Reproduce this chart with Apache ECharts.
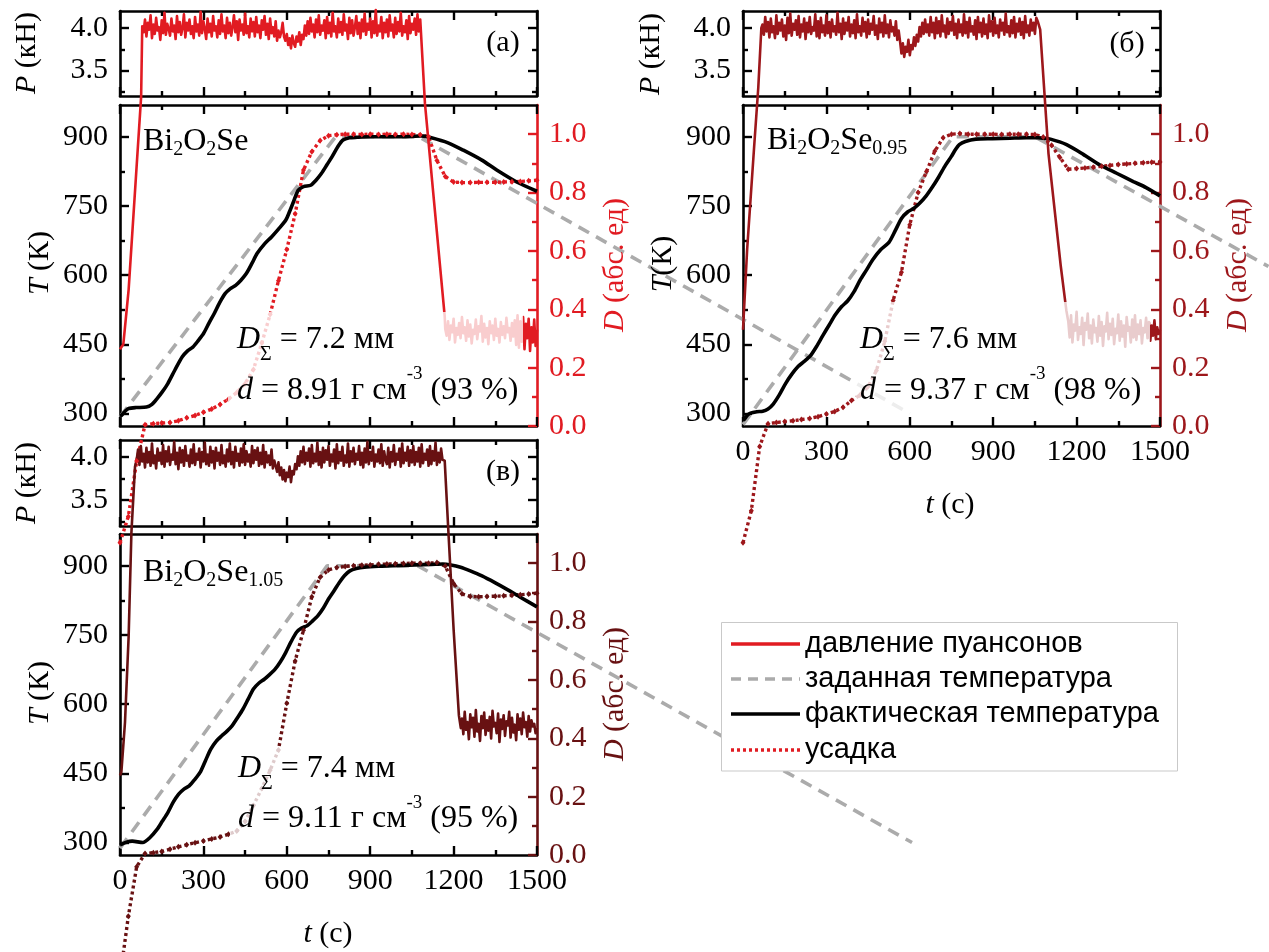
<!DOCTYPE html>
<html>
<head>
<meta charset="utf-8">
<script src="https://cdn.jsdelivr.net/npm/echarts@6/dist/echarts.min.js"></script>
<style>
  html, body { margin: 0; padding: 0; background: #fff; }
  #chart { width: 1269px; height: 952px; }
</style>
</head>
<body>
<div id="chart"></div>
<script>
// ---------------- data ----------------
// pressure records are sampled every 5 s, shrinkage every 30 s
const PRESS_STEP = 5;
const D_STEP = 30;

// panel (а) — Bi2O2Se
const pressRiseA = [[0, 0.22], [12, 0.28], [31, 0.92], [76, 3.19]];
const pressPlateauStartA = 80;
const pressPlateauA = [
  4.02, 3.95, 4.10, 3.90, 4.06, 3.98, 4.15, 3.88, 4.04, 3.93, 4.12, 3.97, 4.01, 3.86, 4.09, 3.94, 4.18, 3.92, 4.05, 3.99,
  3.91, 4.11, 3.96, 4.03, 3.87, 4.14, 3.95, 4.07, 3.92, 4.00, 4.16, 3.89, 4.06, 3.97, 4.10, 3.93, 4.02, 3.88, 4.13, 3.96,
  4.04, 3.91, 4.19, 3.94, 4.08, 3.99, 3.87, 4.11, 3.95, 4.05, 3.90, 4.14, 3.97, 4.02, 3.89, 4.09, 3.93, 4.16, 3.96, 4.03,
  3.88, 4.12, 3.94, 4.06, 3.91, 4.01, 4.15, 3.95, 4.08, 3.86, 4.10, 3.97, 4.04, 3.92, 4.17, 3.94, 4.02, 3.89, 4.11, 3.96,
  4.07, 3.90, 4.13, 3.95, 4.03, 3.88, 4.09, 3.98, 4.14, 3.92, 4.05, 3.87, 4.11, 3.94, 4.01, 3.90, 4.08, 3.85, 3.97, 3.89,
  3.95, 4.06, 3.90, 3.85, 3.93, 3.80, 3.88, 3.76, 3.91, 3.82, 3.78, 3.90, 3.84, 3.95, 3.80, 3.92, 3.87, 4.03, 3.91, 4.08,
  3.93, 4.12, 3.96, 4.04, 3.89, 4.10, 3.95, 4.15, 3.92, 4.03, 3.97, 4.09, 3.88, 4.13, 3.94, 4.06, 3.90, 4.18, 3.96, 4.02,
  3.89, 4.11, 3.95, 4.07, 3.92, 4.16, 3.97, 4.04, 3.87, 4.12, 3.94, 4.09, 3.91, 4.01, 4.14, 3.93, 4.06, 3.88, 4.10, 3.96,
  4.17, 3.92, 4.05, 3.98, 4.11, 3.89, 4.08, 3.94, 4.21, 3.91, 4.03, 3.96, 4.13, 3.88, 4.06, 3.95, 4.10, 3.90, 4.15, 3.97,
  4.04, 3.89, 4.12, 3.93, 4.07, 3.96, 4.18, 3.91, 4.02, 3.95, 4.09, 3.87, 4.14, 3.94, 4.05, 3.98, 4.11, 3.92, 4.16, 3.96,
  4.10
];
const pressDropA = [[1097, 3.11], [1129, 1.98], [1168, 0.61]];
const pressTailStartA = 1170;
const pressTailA = [
  0.46, 0.38, 0.55, 0.33, 0.50, 0.42, 0.58, 0.30, 0.47, 0.39, 0.53, 0.35, 0.60, 0.41, 0.48, 0.32, 0.56, 0.37, 0.51, 0.29,
  0.45, 0.40, 0.57, 0.34, 0.49, 0.43, 0.61, 0.31, 0.52, 0.36, 0.47, 0.28, 0.55, 0.41, 0.50, 0.33, 0.58, 0.38, 0.46, 0.30,
  0.54, 0.39, 0.49, 0.35, 0.59, 0.42, 0.47, 0.32, 0.53, 0.37, 0.56, 0.27,
  0.62, 0.24, 0.55, 0.31, 0.60, 0.22, 0.52, 0.35, 0.58, 0.20, 0.48, 0.30, 0.57, 0.26, 0.45
];
const setTempA = [[0, 293], [775, 900], [1075, 900], [2841, 300]];
const actTempA = [
  [0, 294], [5, 296], [20, 306], [31, 311], [57, 313], [95, 314], [115, 320], [134, 333],
  [152, 347], [172, 365], [198, 395], [224, 423], [243, 436], [262, 444], [280, 457],
  [301, 474], [320, 496], [339, 517], [358, 540], [378, 560], [397, 571], [416, 578],
  [435, 589], [455, 604], [475, 626], [493, 647], [520, 668], [545, 683], [570, 700],
  [596, 719], [610, 738], [622, 756], [641, 784], [660, 792], [686, 795], [705, 806],
  [725, 821], [745, 840], [763, 857], [785, 880], [802, 893], [825, 898], [853, 899],
  [900, 900], [950, 900], [1000, 900], [1050, 901], [1084, 902], [1120, 898], [1180, 887],
  [1235, 871], [1300, 850], [1355, 828], [1427, 802], [1500, 782]
];
const shrinkA = [
  -0.40, -0.31, -0.12, 0.004, 0.008, 0.010, 0.012, 0.018, 0.028, 0.036, 0.047, 0.058, 0.074,
  0.092, 0.115, 0.145, 0.194, 0.284, 0.382, 0.498, 0.605, 0.727, 0.877, 0.940, 0.978, 0.995,
  0.998, 1.0, 1.0, 0.999, 1.0, 0.999, 1.0, 0.999, 1.0, 0.999, 0.998, 0.991, 0.910, 0.855,
  0.836, 0.834, 0.834, 0.835, 0.835, 0.835, 0.836, 0.837, 0.838, 0.840, 0.842
];

// panel (б) — Bi2O2Se0.95
const pressRiseB = [[0, 0.45], [15, 1.4], [40, 2.6], [55, 3.3], [66, 4.0]];
const pressPlateauStartB = 70;
const pressPlateauB = [
  4.04, 3.92, 4.13, 3.96, 4.07, 3.89, 4.11, 3.95, 4.02, 3.88, 4.15, 3.93, 4.06, 3.97, 4.10, 3.90, 4.03, 3.86, 4.12, 3.94,
  4.17, 3.91, 4.05, 3.98, 4.09, 3.92, 4.14, 3.89, 4.04, 3.96, 4.11, 3.87, 4.06, 3.95, 4.13, 3.93, 4.01, 3.97, 4.16, 3.90,
  4.08, 3.88, 4.12, 3.95, 4.03, 3.91, 4.15, 3.94, 4.07, 3.89, 4.10, 3.96, 4.02, 3.92, 4.18, 3.95, 4.05, 3.87, 4.11, 3.93,
  4.06, 3.97, 4.13, 3.90, 4.04, 3.94, 4.09, 3.88, 4.16, 3.95, 4.02, 3.91, 4.12, 3.96, 4.07, 3.89, 4.10, 3.93, 4.05, 3.98,
  4.14, 3.92, 4.03, 3.87, 4.11, 3.95, 4.06, 3.90, 4.15, 3.94, 4.04, 3.89, 4.09, 3.96, 4.01, 3.91, 4.08, 3.86, 3.97, 3.84,
  3.70, 3.82, 3.66, 3.78, 3.72, 3.86, 3.68, 3.80, 3.75, 3.89, 3.79, 3.92, 3.84, 4.01, 3.90, 4.06, 3.93, 4.10, 3.95, 4.04,
  3.91, 4.13, 3.95, 4.06, 3.88, 4.12, 3.94, 4.08, 3.90, 4.15, 3.96, 4.03, 3.89, 4.11, 3.93, 4.07, 3.97, 4.14, 3.92, 4.05,
  3.88, 4.10, 3.95, 4.04, 3.91, 4.16, 3.94, 4.07, 3.89, 4.12, 3.96, 4.02, 3.92, 4.09, 3.87, 4.13, 3.95, 4.06, 3.90, 4.11,
  3.93, 4.04, 3.88, 4.15, 3.96, 4.08, 3.91, 4.12, 3.94, 4.03, 3.89, 4.10, 3.97, 4.06, 3.92, 4.17, 3.95, 4.02, 3.90, 4.09,
  3.94, 4.13, 3.89, 4.05, 3.96, 4.11, 3.92, 4.07, 3.88, 4.14, 3.95, 4.03, 3.91, 4.10, 3.97, 4.06, 3.93, 4.12, 4.08
];
const pressDropB = [[1069, 3.98], [1099, 2.52], [1143, 1.2], [1163, 0.68]];
const pressTailStartB = 1170;
const pressTailB = [
  0.55, 0.36, 0.62, 0.30, 0.51, 0.44, 0.66, 0.33, 0.48, 0.40, 0.59, 0.27, 0.53, 0.45, 0.64, 0.35, 0.50, 0.29, 0.57, 0.42,
  0.47, 0.31, 0.61, 0.38, 0.54, 0.26, 0.49, 0.43, 0.65, 0.34, 0.52, 0.39, 0.58, 0.28, 0.46, 0.41, 0.63, 0.32, 0.55, 0.37,
  0.50, 0.25, 0.60, 0.44, 0.48, 0.30, 0.57, 0.36, 0.62, 0.33, 0.51, 0.40, 0.56, 0.29, 0.47, 0.42, 0.59,
  0.35, 0.54, 0.32, 0.50, 0.38, 0.56, 0.34, 0.48, 0.40, 0.45
];
// the programme leaves the page at about 1890 s
const setTempB = [[0, 276], [755, 900], [1050, 900], [1890, 619]];
const actTempB = [
  [0, 286], [4, 287], [15, 296], [27, 301], [50, 304], [71, 305], [90, 310], [108, 320],
  [130, 340], [153, 365], [175, 385], [198, 402], [220, 413], [242, 425], [265, 446],
  [287, 469], [310, 492], [332, 514], [355, 532], [376, 544], [400, 565], [421, 589],
  [445, 612], [466, 633], [495, 655], [525, 671], [548, 697], [570, 723], [592, 737],
  [615, 745], [637, 757], [659, 772], [680, 790], [704, 813], [728, 838], [749, 857],
  [765, 873], [778, 883], [800, 890], [838, 895], [897, 896], [960, 897], [1020, 898],
  [1061, 898], [1080, 897], [1106, 895], [1164, 883], [1224, 862], [1284, 839],
  [1344, 821], [1404, 803], [1450, 790], [1500, 772]
];
const shrinkB = [
  -0.40, -0.29, -0.07, 0.008, 0.012, 0.015, 0.018, 0.022, 0.026, 0.032, 0.041, 0.050, 0.064,
  0.087, 0.105, 0.135, 0.19, 0.29, 0.43, 0.527, 0.69, 0.80, 0.872, 0.942, 0.988, 1.0,
  1.002, 1.0, 1.0, 1.0, 1.0, 0.999, 1.0, 1.0, 1.0, 0.999, 0.99, 0.962, 0.92, 0.88,
  0.882, 0.884, 0.887, 0.89, 0.893, 0.896, 0.898, 0.90, 0.902, 0.904, 0.905
];

// panel (в) — Bi2O2Se1.05
const pressRiseC = [[0, 0.30], [5, 0.34], [18, 0.92], [31, 1.91], [41, 3.12], [54, 3.89]];
const pressPlateauStartC = 60;
const pressPlateauC = [
  3.97, 4.09, 3.91, 4.13, 3.95, 4.04, 3.88, 4.11, 3.94, 4.06, 3.90, 4.16, 3.93, 4.02, 3.87, 4.10, 3.96, 4.05, 3.92, 4.14,
  3.89, 4.07, 3.95, 4.12, 3.91, 4.03, 3.97, 4.18, 3.92, 4.05, 3.86, 4.11, 3.94, 4.08, 3.90, 4.13, 3.96, 4.02, 3.89, 4.09,
  3.93, 4.15, 3.91, 4.04, 3.97, 4.10, 3.88, 4.06, 3.95, 4.17, 3.92, 4.03, 3.90, 4.12, 3.94, 4.07, 3.87, 4.11, 3.96, 4.05,
  3.91, 4.14, 3.93, 4.02, 3.89, 4.09, 3.95, 4.16, 3.92, 4.06, 3.88, 4.12, 3.96, 4.04, 3.90, 4.10, 3.94, 4.15, 3.91, 4.07,
  3.95, 4.03, 3.89, 4.13, 3.93, 4.08, 3.97, 4.11, 3.90, 4.05, 3.92, 4.14, 3.88, 4.06, 3.94, 4.02, 3.91, 4.09, 3.87, 3.96,
  3.90, 3.83, 3.94, 3.79, 3.88, 3.74, 3.85, 3.72, 3.82, 3.77, 3.89, 3.71, 3.84, 3.80, 3.92, 3.86, 4.01, 3.90, 4.07, 3.94,
  4.12, 3.92, 4.05, 3.96, 4.10, 3.89, 4.14, 3.93, 4.04, 3.95, 4.17, 3.91, 4.06, 3.88, 4.11, 3.94, 4.08, 3.97, 4.13, 3.90,
  4.03, 3.95, 4.09, 3.87, 4.15, 3.93, 4.06, 3.96, 4.12, 3.90, 4.02, 3.94, 4.16, 3.89, 4.07, 3.95, 4.11, 3.92, 4.04, 3.97,
  4.13, 3.91, 4.05, 3.88, 4.10, 3.94, 4.18, 3.92, 4.06, 3.96, 4.12, 3.89, 4.03, 3.95, 4.09, 3.93, 4.15, 3.90, 4.07, 3.97,
  3.92, 4.11, 3.88, 4.06, 3.95, 4.14, 3.91, 4.04, 3.97, 4.10, 3.89, 4.16, 3.93, 4.05, 3.96, 4.12, 3.90, 4.08, 3.94, 4.13,
  3.91, 4.06, 3.95, 4.11, 3.89, 4.15, 3.93, 4.04, 3.97, 4.09, 3.90, 4.13, 3.92, 4.07, 3.96, 4.17, 3.91, 4.05, 3.94, 4.10,
  3.97
];
const pressDropC = [[1168, 3.96], [1181, 3.15], [1200, 2.0], [1219, 1.0], [1226, 0.85]];
const pressTailStartC = 1230;
const pressTailC = [
  0.96, 0.78, 1.04, 0.83, 0.92, 0.72, 1.01, 0.86, 0.97, 0.75, 1.06, 0.81, 0.90, 0.70, 0.99, 0.85, 1.03, 0.77, 0.94, 0.82,
  0.98, 0.73, 1.05, 0.87, 0.91, 0.79, 1.02, 0.69, 0.95, 0.84, 1.00, 0.76, 0.93, 0.88, 1.04, 0.74, 0.97, 0.80, 0.89, 0.71,
  1.01, 0.83, 0.96, 0.78, 1.03, 0.86, 0.92, 0.75, 0.99, 0.81, 0.94, 0.87, 0.90, 0.79, 0.85
];
const setTempC = [[0, 288], [745, 900], [1072, 900], [2849, 300]];
const actTempC = [
  [0, 295], [5, 296], [20, 300], [44, 303], [82, 300], [108, 311], [134, 329], [152, 346],
  [172, 365], [192, 388], [211, 405], [230, 416], [249, 423], [268, 436], [288, 452],
  [307, 477], [326, 502], [345, 519], [365, 531], [384, 541], [403, 553], [422, 570],
  [442, 589], [461, 611], [480, 633], [500, 646], [519, 654], [538, 664], [558, 676],
  [577, 692], [596, 712], [615, 735], [635, 756], [653, 765], [673, 770], [692, 780],
  [712, 792], [731, 808], [750, 828], [770, 846], [789, 864], [808, 879], [827, 889],
  [850, 894], [879, 897], [930, 899], [981, 900], [1060, 902], [1120, 903], [1161, 904],
  [1190, 902], [1225, 897], [1260, 889], [1302, 878], [1350, 863], [1392, 849],
  [1440, 832], [1500, 811]
];
const shrinkC = [
  -0.42, -0.21, -0.04, 0.005, 0.008, 0.012, 0.020, 0.028, 0.035, 0.042, 0.048, 0.055, 0.062,
  0.071, 0.082, 0.115, 0.17, 0.228, 0.29, 0.36, 0.52, 0.665, 0.77, 0.885, 0.952, 0.977,
  0.985, 0.989, 0.991, 0.993, 0.994, 0.996, 0.997, 0.998, 0.999, 1.0, 1.0, 1.0, 1.002, 0.99,
  0.93, 0.895, 0.886, 0.885, 0.886, 0.887, 0.888, 0.89, 0.892, 0.894, 0.897
];

// axis ticks
const pressTicks = [3.5, 4.0];
const pressMinor = [3.25, 3.75];
const tempTicks = [300, 450, 600, 750, 900];
const tempMinor = [375, 525, 675, 825];
const shrinkTicks = [0, 0.2, 0.4, 0.6, 0.8, 1.0];
const shrinkMinor = [0.1, 0.3, 0.5, 0.7, 0.9];

// ---------------- styling ----------------
const SERIF = '"Liberation Serif", "Times New Roman", serif';
const SANS = '"Liberation Sans", Arial, sans-serif';
const COL_A = '#e11b22';
const COL_B = '#9d171b';
const COL_C = '#681112';
const GRAY = '#ababab';
const TICK_FS = 30;

const grids = [
  { left: 120, top: 11,  width: 417, height: 85 },   // (а) pressure
  { left: 120, top: 105, width: 417, height: 321 },  // (а) temperature / shrinkage
  { left: 743, top: 11,  width: 417, height: 85 },   // (б) pressure
  { left: 743, top: 105, width: 417, height: 321 },  // (б) temperature / shrinkage
  { left: 120, top: 440, width: 417, height: 86 },   // (в) pressure
  { left: 120, top: 534, width: 417, height: 321 }   // (в) temperature / shrinkage
];

function seq(start, step, values) {
  return values.map((v, i) => [start + i * step, v]);
}

function xAxisPair(g, showLabels) {
  const base = {
    type: 'value', gridIndex: g, min: 0, max: 1500, interval: 300,
    axisLine: { show: true, onZero: false, lineStyle: { color: '#000', width: 2.6 } },
    axisTick: { show: true, inside: true, length: 9, lineStyle: { color: '#000', width: 2.4 } },
    minorTick: { show: true, splitNumber: 2, length: 5, lineStyle: { color: '#000', width: 2.4 } },
    splitLine: { show: false }, minorSplitLine: { show: false }
  };
  return [
    Object.assign({}, base, {
      position: 'bottom',
      axisLabel: { show: showLabels, margin: 11, color: '#000', fontFamily: SERIF, fontSize: TICK_FS,
                   formatter: v => String(v) }
    }),
    Object.assign({}, base, { position: 'top', axisLabel: { show: false } })
  ];
}

function yAxisSide(g, pos, min, max, major, minor, color, showLabels, digits) {
  const common = { type: 'value', gridIndex: g, position: pos, min: min, max: max,
                   splitLine: { show: false } };
  return [
    Object.assign({}, common, {
      axisLine: { show: true, onZero: false, lineStyle: { color: color, width: 2.6 } },
      axisTick: { show: true, inside: true, length: 9, customValues: major,
                  lineStyle: { color: color, width: 2.4 } },
      axisLabel: { show: showLabels, customValues: major, margin: 12, color: color,
                   fontFamily: SERIF, fontSize: TICK_FS,
                   formatter: v => Number(v).toFixed(digits) }
    }),
    Object.assign({}, common, {
      axisLine: { show: false, onZero: false },
      axisTick: { show: true, inside: true, length: 5, customValues: minor,
                  lineStyle: { color: color, width: 2.4 } },
      axisLabel: { show: false }
    })
  ];
}

// programmeEnd: time span of the hidden, wider frame that carries the set-temperature
// programme (same seconds-per-pixel as the panel, kept inside the page)
const panels = [
  { color: COL_A, press: [...pressRiseA, ...seq(pressPlateauStartA, PRESS_STEP, pressPlateauA), ...pressDropA, ...seq(pressTailStartA, PRESS_STEP, pressTailA)],
    setT: setTempA, actT: actTempA, shrink: shrinkA, labels: false, programmeEnd: 3000 },
  { color: COL_B, press: [...pressRiseB, ...seq(pressPlateauStartB, PRESS_STEP, pressPlateauB), ...pressDropB, ...seq(pressTailStartB, PRESS_STEP, pressTailB)],
    setT: setTempB, actT: actTempB, shrink: shrinkB, labels: true, programmeEnd: 1890 },
  { color: COL_C, press: [...pressRiseC, ...seq(pressPlateauStartC, PRESS_STEP, pressPlateauC), ...pressDropC, ...seq(pressTailStartC, PRESS_STEP, pressTailC)],
    setT: setTempC, actT: actTempC, shrink: shrinkC, labels: true, programmeEnd: 3000 }
];

const xAxes = [];
const yAxes = [];
const series = [];
const allGrids = grids.slice();

panels.forEach((p, k) => {
  const gp = 2 * k, gm = 2 * k + 1;
  xAxes.push(...xAxisPair(gp, false));
  yAxes.push(...yAxisSide(gp, 'left', 3.2, 4.2, pressTicks, pressMinor, '#000', true, 1));
  yAxes.push(...yAxisSide(gp, 'right', 3.2, 4.2, pressTicks, pressMinor, '#000', false, 1));
  xAxes.push(...xAxisPair(gm, p.labels));
  yAxes.push(...yAxisSide(gm, 'left', 273, 969, tempTicks, tempMinor, '#000', true, 0));
  yAxes.push(...yAxisSide(gm, 'right', 0, 1.1, shrinkTicks, shrinkMinor, p.color, true, 1));
});

panels.forEach((p, k) => {
  const gp = 2 * k, gm = 2 * k + 1;
  const main = grids[gm];
  const wideIndex = allGrids.length;
  allGrids.push({ left: main.left, top: main.top, height: main.height,
                  width: main.width * p.programmeEnd / 1500 });
  const wideX = xAxes.length, wideY = yAxes.length;
  xAxes.push({ type: 'value', gridIndex: wideIndex, min: 0, max: p.programmeEnd, show: false });
  yAxes.push({ type: 'value', gridIndex: wideIndex, min: 273, max: 969, show: false });

  series.push({
    type: 'line', name: 'заданная температура', xAxisIndex: wideX, yAxisIndex: wideY,
    data: p.setT, showSymbol: false, clip: false, silent: true,
    lineStyle: { color: GRAY, width: 3.6, type: [12, 8] }
  });
  series.push({
    type: 'line', name: 'усадка', xAxisIndex: 2 * gm, yAxisIndex: 4 * gm + 2,
    data: seq(0, D_STEP, p.shrink), clip: false, silent: true,
    symbol: 'diamond', symbolSize: [5, 6], showSymbol: true,
    itemStyle: { color: p.color },
    lineStyle: { color: p.color, width: 3.4, type: [3, 3] }
  });
  series.push({
    type: 'line', name: 'фактическая температура', xAxisIndex: 2 * gm, yAxisIndex: 4 * gm,
    data: p.actT, showSymbol: false, clip: false, silent: true, smooth: 0.25,
    lineStyle: { color: '#000', width: 3.6 }
  });
  series.push({
    type: 'line', name: 'давление пуансонов', xAxisIndex: 2 * gp, yAxisIndex: 4 * gp,
    data: p.press, showSymbol: false, clip: false, silent: true,
    lineStyle: { color: p.color, width: 2.6, join: 'round' }
  });
});

// ---------------- text / overlays ----------------
function richSet(fs, lh, color) {
  return {
    m:   { fontFamily: SERIF, fontSize: fs, lineHeight: lh, fill: color },
    i:   { fontFamily: SERIF, fontSize: fs, lineHeight: lh, fill: color, fontStyle: 'italic' },
    sub: { fontFamily: SERIF, fontSize: 20, lineHeight: 15, verticalAlign: 'bottom', fill: color },
    s2:  { fontFamily: SERIF, fontSize: 20, lineHeight: 26, verticalAlign: 'bottom', fill: color },
    sup: { fontFamily: SERIF, fontSize: 19, lineHeight: 44, verticalAlign: 'top', fill: color }
  };
}

function vtitle(x, y, text, color) {
  return { type: 'text', x: x, y: y, rotation: Math.PI / 2, z: 110,
    style: { text: text, rich: richSet(30, 34, color), align: 'center', verticalAlign: 'middle' } };
}
function htext(x, y, text, color, fs, lh) {
  return { type: 'text', x: x, y: y, z: 110,
    style: { text: text, rich: richSet(fs, lh, color), align: 'left', verticalAlign: 'top' } };
}
function veil(x, y, w, h) {
  return { type: 'rect', z: 100, shape: { x: x, y: y, width: w, height: h },
    style: { fill: 'rgba(255,255,255,0.78)' } };
}

const graphics = [
  // axis titles
  vtitle(27, 53, '{i|P}{m| (кН)}', '#000'),
  vtitle(40, 263, '{i|T}{m| (К)}', '#000'),
  vtitle(615, 265, '{i|D}{m| (абс. ед)}', COL_A),
  vtitle(651, 54, '{i|P}{m| (кН)}', '#000'),
  vtitle(663, 264, '{i|T}{m|(К)}', '#000'),
  vtitle(1238, 265, '{i|D}{m| (абс. ед)}', COL_B),
  vtitle(27, 483, '{i|P}{m| (кН)}', '#000'),
  vtitle(40, 693, '{i|T}{m| (К)}', '#000'),
  vtitle(615, 694, '{i|D}{m| (абс. ед)}', COL_C),
  { type: 'text', x: 950, y: 505, z: 110,
    style: { text: '{i|t}{m| (с)}', rich: richSet(30, 34, '#000'), align: 'center', verticalAlign: 'middle' } },
  { type: 'text', x: 328, y: 934, z: 110,
    style: { text: '{i|t}{m| (с)}', rich: richSet(30, 34, '#000'), align: 'center', verticalAlign: 'middle' } },

  // panel letters
  { type: 'text', x: 503, y: 43, z: 110,
    style: { text: '(а)', font: '30px ' + SERIF, fill: '#000', align: 'center', verticalAlign: 'middle' } },
  { type: 'text', x: 1127, y: 44, z: 110,
    style: { text: '(б)', font: '30px ' + SERIF, fill: '#000', align: 'center', verticalAlign: 'middle' } },
  { type: 'text', x: 503, y: 472, z: 110,
    style: { text: '(в)', font: '30px ' + SERIF, fill: '#000', align: 'center', verticalAlign: 'middle' } },

  // compositions
  htext(143, 123.5, '{m|Bi}{sub|2}{m|O}{sub|2}{m|Se}', '#000', 32, 36),
  htext(767, 122.7, '{m|Bi}{sub|2}{m|O}{sub|2}{m|Se}{sub|0.95}', '#000', 32, 36),
  htext(143, 554.5, '{m|Bi}{sub|2}{m|O}{sub|2}{m|Se}{sub|1.05}', '#000', 32, 36),

  // translucent backing of the sintering results
  veil(228, 312, 295, 102),
  veil(856, 302, 294, 114),
  veil(230, 747, 294, 98),

  htext(237, 314, '{i|D}{s2|Σ}{m| = 7.2 мм}\n{i|d}{m| = 8.91 г см}{sup|-3}{m| (93 %)}', '#000', 32, 51),
  htext(860, 314, '{i|D}{s2|Σ}{m| = 7.6 мм}\n{i|d}{m| = 9.37 г см}{sup|-3}{m| (98 %)}', '#000', 32, 51),
  htext(238, 744, '{i|D}{s2|Σ}{m| = 7.4 мм}\n{i|d}{m| = 9.11 г см}{sup|-3}{m| (95 %)}', '#000', 32, 50),

  // legend
  { type: 'rect', z: 120, shape: { x: 721.5, y: 622.5, width: 456, height: 148.5 },
    style: { fill: '#fff', stroke: '#c9c9c9', lineWidth: 1 } },
  { type: 'line', z: 121, shape: { x1: 731, y1: 644, x2: 800, y2: 644 },
    style: { stroke: COL_A, lineWidth: 3.4 } },
  { type: 'line', z: 121, shape: { x1: 731, y1: 679, x2: 800, y2: 679 },
    style: { stroke: GRAY, lineWidth: 3.4, lineDash: [10, 7] } },
  { type: 'line', z: 121, shape: { x1: 731, y1: 714, x2: 800, y2: 714 },
    style: { stroke: '#000', lineWidth: 3.4 } },
  { type: 'line', z: 121, shape: { x1: 731, y1: 750, x2: 800, y2: 750 },
    style: { stroke: COL_A, lineWidth: 3.4, lineDash: [3, 3] } },
  { type: 'text', z: 121, x: 805, y: 644,
    style: { text: 'давление пуансонов', font: '29px ' + SANS, fill: '#000', verticalAlign: 'middle' } },
  { type: 'text', z: 121, x: 805, y: 679,
    style: { text: 'заданная температура', font: '29px ' + SANS, fill: '#000', verticalAlign: 'middle' } },
  { type: 'text', z: 121, x: 805, y: 714,
    style: { text: 'фактическая температура', font: '29px ' + SANS, fill: '#000', verticalAlign: 'middle' } },
  { type: 'text', z: 121, x: 805, y: 750,
    style: { text: 'усадка', font: '29px ' + SANS, fill: '#000', verticalAlign: 'middle' } }
];

const chart = echarts.init(document.getElementById('chart'), null, { renderer: 'canvas' });
chart.setOption({
  animation: false,
  backgroundColor: '#fff',
  textStyle: { fontFamily: SERIF },
  grid: allGrids,
  xAxis: xAxes,
  yAxis: yAxes,
  series: series,
  graphic: { elements: graphics }
});
</script>
</body>
</html>
